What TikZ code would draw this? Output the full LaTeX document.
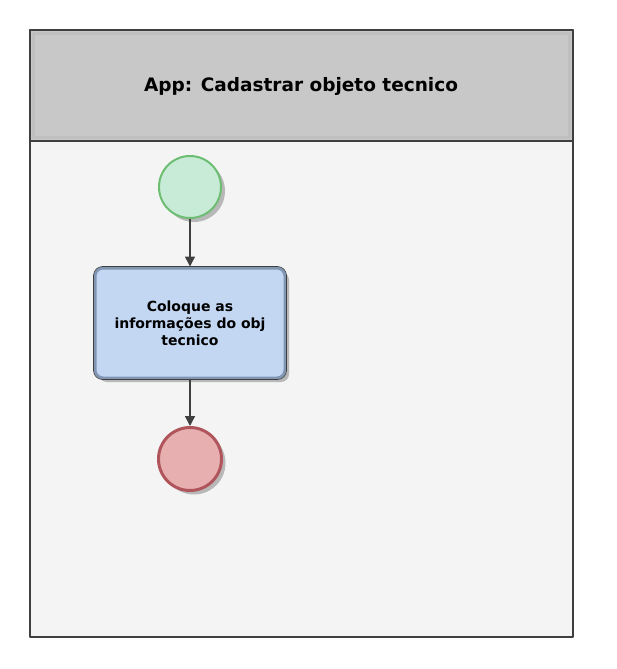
\documentclass[tikz,border=0pt]{standalone}
\usepackage{fontspec}
\setmainfont{DejaVu Sans}
\usetikzlibrary{arrows.meta,positioning,shadows}
\definecolor{laneInk}{HTML}{3F3F3F}
\definecolor{laneHead}{HTML}{C8C8C8}
\definecolor{laneBody}{HTML}{F4F4F4}
\definecolor{startFill}{HTML}{C8EBD7}
\definecolor{startLine}{HTML}{6CBD72}
\definecolor{endFill}{HTML}{E8AFB1}
\definecolor{endLine}{HTML}{AF555B}
\definecolor{taskFill}{HTML}{C3D7F3}
\definecolor{taskLine}{HTML}{8196B2}
\begin{document}
\begin{tikzpicture}[x=1pt,y=-1pt,>={Triangle[length=10pt,width=10pt]},line join=round]
\path[fill=white] (0,0) rectangle (616,669);
\tikzset{flow/.style={draw=laneInk,line width=1.5pt,->},
  shade/.style={drop shadow={shadow xshift=4pt,shadow yshift=-4pt,fill=black!28,opacity=1}},
  startev/.style={circle,minimum size=62pt,inner sep=0pt,draw=startLine,fill=startFill,line width=2pt,shade},
  endev/.style={circle,minimum size=63pt,inner sep=0pt,draw=endLine,fill=endFill,line width=3pt,shade},
  task/.style={rectangle,rounded corners=8pt,minimum width=190pt,minimum height=110pt,draw=taskLine,fill=taskFill,line width=3pt,align=center,font=\bfseries\fontsize{14}{17}\selectfont,shade}}
% pool
\path[fill=laneBody,draw=laneInk,line width=2pt] (30,30) rectangle (573,637);
\path[fill=laneHead,draw=laneInk,line width=2pt] (30,30) rectangle (573,141);
\draw[black!25,line width=3pt] (33.5,33.5) rectangle (569.5,137.5);
\node[font=\bfseries\fontsize{18.5}{20}\selectfont] (title) at (301,86) {App: Cadastrar objeto tecnico};
% flow
\node[startev] (start) at (190,187) {};
\node[task] (place) at (190,323) {Coloque as\\informações do obj\\tecnico};
\node[endev] (finish) at (190,459) {};
\draw[laneInk,line width=0.6pt,rounded corners=9pt] (place.south west) rectangle (place.north east);
\draw[flow] (start) -- (place);
\draw[flow] (place) -- (finish);
\end{tikzpicture}
\end{document}
